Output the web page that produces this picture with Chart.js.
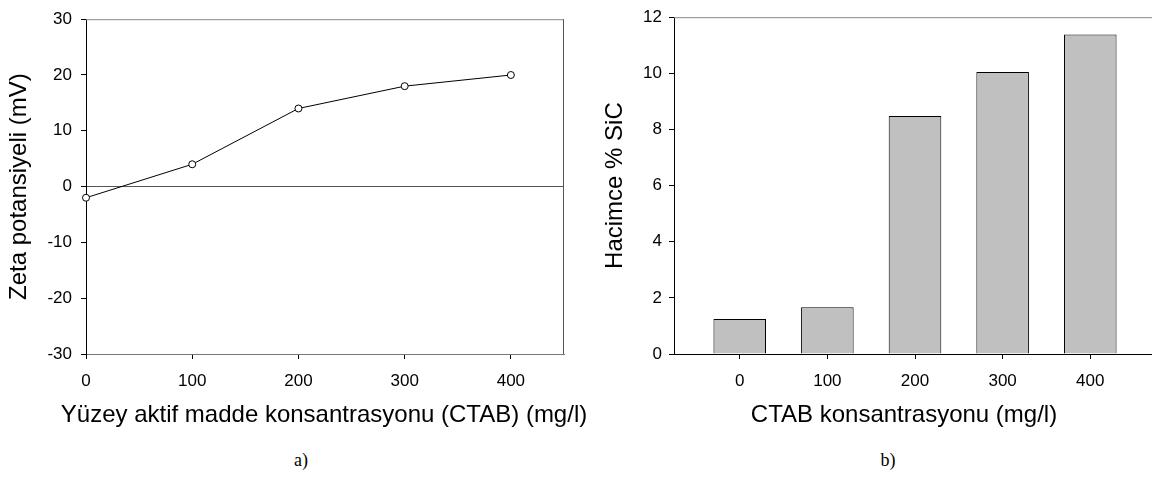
<!DOCTYPE html>
<html>
<head>
<meta charset="utf-8">
<script src="https://cdn.jsdelivr.net/npm/chart.js@4/dist/chart.umd.min.js"></script>
<style>
  html, body { margin: 0; padding: 0; background: #fff; }
  body { width: 1152px; height: 477px; overflow: hidden; position: relative; }
  #wrapA { position: absolute; left: 0; top: 0; width: 600px; height: 440px; }
  #wrapB { position: absolute; left: 600px; top: 0; width: 560px; height: 440px; }
  .cap { position: absolute; font-family: "Liberation Serif", "Times New Roman", serif; font-size: 18px; color: #000; transform: translateX(-50%); }
  .xt { position: absolute; font-family: "Liberation Sans", Arial, sans-serif; font-size: 24px; line-height: 28px; color: #000; transform: translateX(-50%); white-space: nowrap; }
</style>
</head>
<body>
<div id="wrapA"><canvas id="chartA" width="600" height="440"></canvas></div>
<div id="wrapB"><canvas id="chartB" width="560" height="440"></canvas></div>
<div class="xt" id="xtA" style="left:324px; top:400px;"></div>
<div class="xt" id="xtB" style="left:904px; top:400px;"></div>
<div class="cap" style="left:301px; top:450px;">a)</div>
<div class="cap" style="left:888px; top:450px;">b)</div>
<script>
// ---- Data ----
const ctabConc = [0, 100, 200, 300, 400];          // mg/l
const zetaPotential = [-2, 4, 14, 18, 20];          // mV
const sicVolume = [1.25, 1.67, 8.48, 10.05, 11.38]; // Hacimce % SiC
const xTickValues = [0, 100, 200, 300, 400];
const yTicksA = [-30, -20, -10, 0, 10, 20, 30];
const yTicksB = [0, 2, 4, 6, 8, 10, 12];
const xTitleA = 'Yüzey aktif madde konsantrasyonu (CTAB) (mg/l)';
const xTitleB = 'CTAB konsantrasyonu (mg/l)';
const yTitleA = 'Zeta potansiyeli (mV)';
const yTitleB = 'Hacimce % SiC';

document.getElementById('xtA').textContent = xTitleA;
document.getElementById('xtB').textContent = xTitleB;

const FONT = '"Liberation Sans", Arial, sans-serif';
Chart.defaults.font.family = FONT;
Chart.defaults.color = '#000';

const framePlugin = {
  id: 'frame',
  afterDatasetsDraw(chart, args, opts) {
    const { ctx, chartArea: a } = chart;
    ctx.save();
    ctx.lineWidth = 1;
    if (opts.top) {
      ctx.strokeStyle = opts.top;
      ctx.beginPath(); ctx.moveTo(a.left, a.top + 0.5); ctx.lineTo(a.right, a.top + 0.5); ctx.stroke();
    }
    if (opts.right) {
      ctx.strokeStyle = opts.right;
      ctx.beginPath(); ctx.moveTo(a.right - 0.5, a.top); ctx.lineTo(a.right - 0.5, a.bottom); ctx.stroke();
    }
    ctx.restore();
  }
};

// ---- Chart a) ----
new Chart(document.getElementById('chartA'), {
  type: 'line',
  data: {
    datasets: [{
      data: ctabConc.map((x, i) => ({ x: x, y: zetaPotential[i] })),
      borderColor: '#000',
      borderWidth: 1,
      pointRadius: 3.5,
      pointBackgroundColor: '#fff',
      pointBorderColor: '#000',
      pointBorderWidth: 1,
      tension: 0,
      clip: false
    }]
  },
  options: {
    responsive: false,
    animation: false,
    layout: { padding: { left: 0, top: 14, right: 36, bottom: 0 } },
    plugins: { legend: { display: false }, tooltip: { enabled: false },
      frame: { top: '#888', right: '#555' } },
    scales: {
      x: {
        type: 'linear', min: 0, max: 450,
        afterBuildTicks: s => { s.ticks = xTickValues.map(v => ({ value: v })); },
        afterFit: s => { s.height = 86; },
        ticks: { font: { size: 17 }, padding: 12, color: '#000' },
        grid: { drawOnChartArea: false, drawTicks: true, tickLength: 5, tickColor: '#000' },
        border: { color: '#777', width: 1 },
        title: { display: false }
      },
      y: {
        type: 'linear', min: -30, max: 30,
        afterBuildTicks: s => { s.ticks = yTicksA.map(v => ({ value: v })); },
        afterFit: s => { s.width = 86; },
        ticks: { font: { size: 17 }, padding: 9, color: '#000' },
        grid: { drawOnChartArea: true, drawTicks: true, tickLength: 5, tickColor: '#000',
          color: c => (c.tick && c.tick.value === 0) ? '#555' : 'rgba(0,0,0,0)' },
        border: { color: '#000', width: 1 },
        title: { display: true, text: yTitleA,
          font: { size: 24 }, color: '#000', padding: { top: 5, bottom: 0 } }
      }
    }
  },
  plugins: [framePlugin]
});

// ---- Chart b) ----
new Chart(document.getElementById('chartB'), {
  type: 'bar',
  data: {
    datasets: [{
      data: ctabConc.map((x, i) => ({ x: x, y: sicVolume[i] })),
      backgroundColor: '#c0c0c0',
      borderColor: '#000',
      borderWidth: 1,
      barPercentage: 0.6,
      categoryPercentage: 1
    }]
  },
  options: {
    responsive: false,
    animation: false,
    layout: { padding: { left: 0, top: 14, right: 4, bottom: 0 } },
    plugins: { legend: { display: false }, tooltip: { enabled: false },
      frame: { top: '#888' } },
    scales: {
      x: {
        type: 'linear', min: -75, max: 475, offset: false,
        afterBuildTicks: s => { s.ticks = xTickValues.map(v => ({ value: v })); },
        afterFit: s => { s.height = 86; },
        ticks: { font: { size: 17 }, padding: 12, color: '#000' },
        grid: { drawOnChartArea: false, drawTicks: true, tickLength: 5, tickColor: '#000', offset: false },
        border: { color: '#000', width: 1 },
        title: { display: false }
      },
      y: {
        type: 'linear', min: 0, max: 12,
        afterBuildTicks: s => { s.ticks = yTicksB.map(v => ({ value: v })); },
        afterFit: s => { s.width = 74; },
        ticks: { font: { size: 17 }, padding: 7, color: '#000' },
        grid: { drawOnChartArea: false, drawTicks: true, tickLength: 5, tickColor: '#000' },
        border: { color: '#000', width: 1 },
        title: { display: true, text: yTitleB,
          font: { size: 24 }, color: '#000', padding: { top: 1, bottom: 0 } }
      }
    }
  },
  plugins: [framePlugin]
});
</script>
</body>
</html>
